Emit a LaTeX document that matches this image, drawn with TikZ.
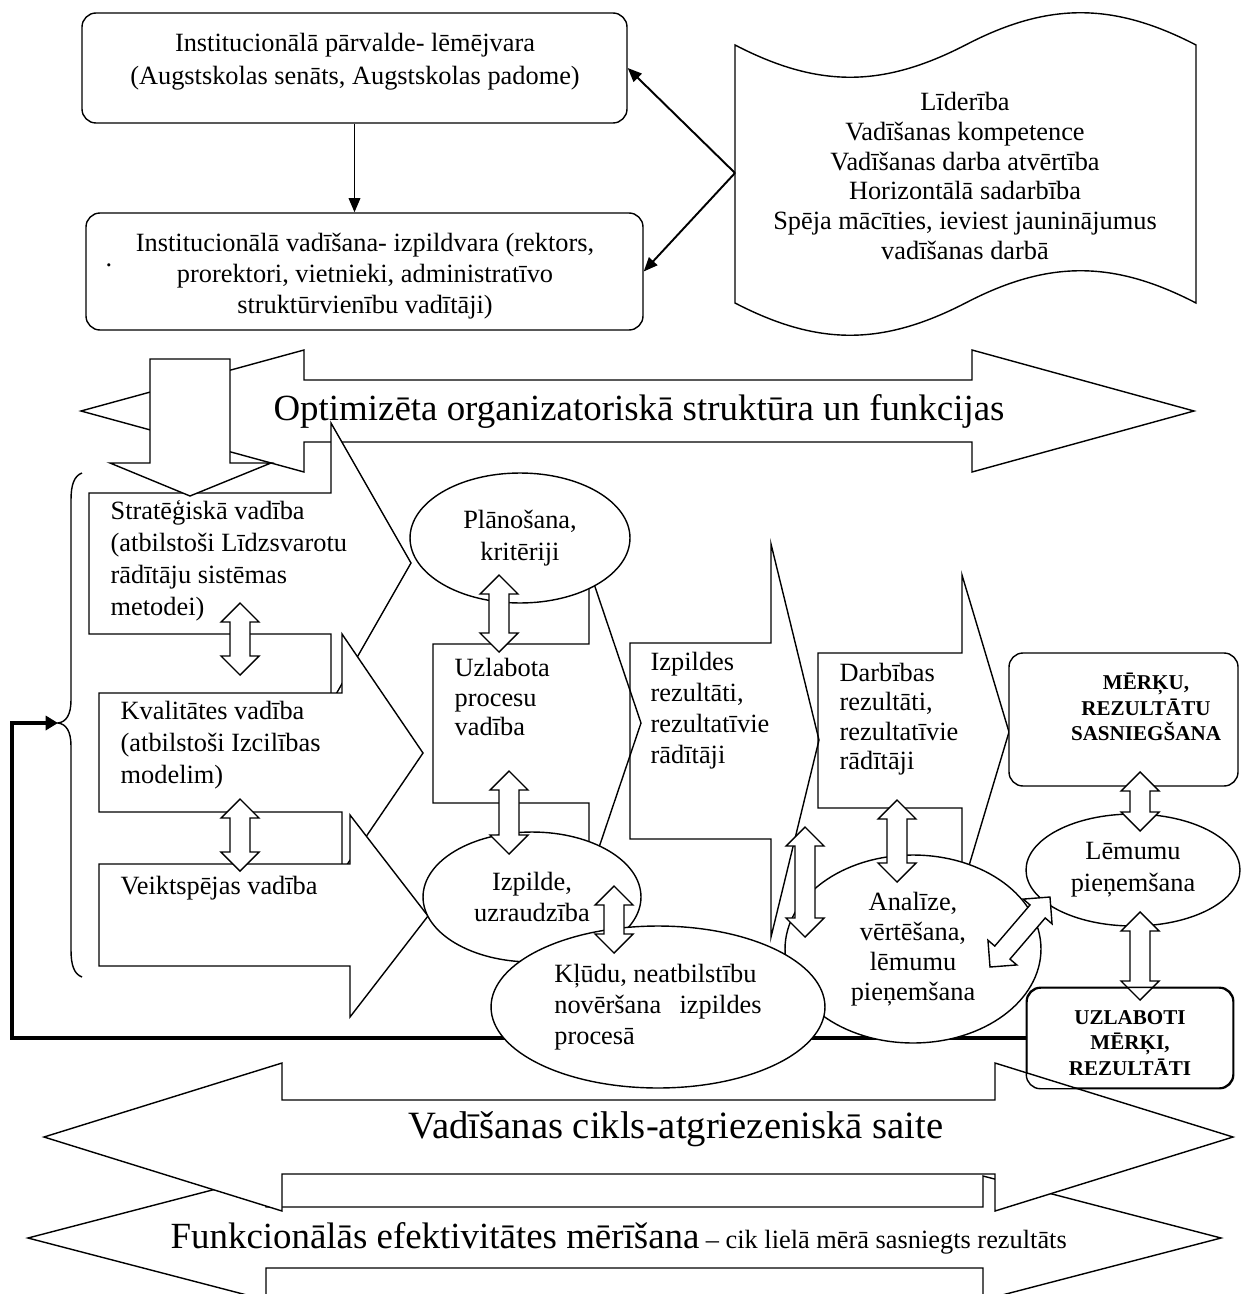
\documentclass[tikz,border=0pt]{standalone}
\usepackage{fontspec}
\setmainfont{Liberation Serif}
\usetikzlibrary{arrows.meta,shapes.geometric,fit}

% hollow double arrow between two points (pixel units)
\newcommand*{\dblarr}[4]{%
  \pgfmathsetmacro{\dblang}{atan2((#2)-(#4),(#3)-(#1))}%
  \pgfmathsetmacro{\dbllen}{veclen((#3)-(#1),(#4)-(#2))}%
  \begin{scope}[shift={(#1,#2)},rotate=\dblang]
    \draw[dblarrow] (0,0) -- (19,-19) -- (19,-10) -- (\dbllen-19,-10)
      -- (\dbllen-19,-19) -- (\dbllen,0) -- (\dbllen-19,19)
      -- (\dbllen-19,10) -- (19,10) -- (19,19) -- cycle;
  \end{scope}}

\begin{document}
\begin{tikzpicture}
[
	x=0.02cm, y=-0.02cm,
	line width=0.8pt,
	every node/.style={inner sep=0pt},
	box/.style={draw,fill=white,rounded corners=8pt},
	oval/.style={ellipse,draw,fill=white,align=center,font=\fontsize{15}{17.5}\selectfont},
	txt/.style={align=left,font=\fontsize{15}{17.5}\selectfont},
	ctxt/.style={align=center,font=\fontsize{15}{17.5}\selectfont},
	btxt/.style={align=center,font=\fontsize{12}{14.5}\selectfont\bfseries},
	bigtxt/.style={font=\fontsize{21}{24}\selectfont},
	blockarr/.style={draw,fill=white},
	openarr/.style={draw},
	dblarrow/.style={draw,fill=white},
	conn/.style={line width=1.1pt,-{Triangle[length=8pt,width=6.5pt]}},
	feedback/.style={line width=2.3pt,-{Triangle[length=7pt,width=8pt]}}
]
	\path[use as bounding box,clip] (0,0) rectangle (1243,1294);

	% governance
	\node[box,fit={(82,13) (627,123)}] (gov) {};
	\node[ctxt,font=\fontsize{15}{18.8}\selectfont] (govtxt) at (355,62)
		{Institucionālā pārvalde- lēmējvara\\(Augstskolas senāts, Augstskolas padome)};
	\node[box,fit={(86,213) (643,330)}] (exec) {};
	\node[ctxt] (exectxt) at (365,276)
		{Institucionālā vadīšana- izpildvara (rektors,\\prorektori, vietnieki, administratīvo\\struktūrvienību vadītāji)};
	\node[txt] (dot) at (109,265) {.};
	\draw[conn] (gov.south) -- (gov.south |- exec.north);

	% leadership scroll
	\draw (735,45) .. controls (818,88) and (882,88) .. (965.5,45)
		.. controls (1048,2) and (1113,2) .. (1196,45) -- (1196,303)
		.. controls (1113,260) and (1048,260) .. (965.5,303)
		.. controls (882,346) and (818,346) .. (735,303) -- cycle;
	\node[ctxt,font=\fontsize{15}{17}\selectfont] (lead) at (965,176)
		{Līderība\\Vadīšanas kompetence\\Vadīšanas darba atvērtība\\Horizontālā sadarbība\\Spēja mācīties, ieviest jauninājumus\\vadīšanas darbā};
	\coordinate (scrollL) at (735,173);
	\draw[conn] (scrollL) -- (gov.east);
	\draw[conn] (scrollL) -- (exec.east);

	% structure arrow
	\draw[blockarr] (81,411) -- (304,350) -- (304,380) -- (972,380) -- (972,350) -- (1194,411)
		-- (972,472) -- (972,442) -- (304,442) -- (304,472) -- cycle;
	\node[bigtxt,anchor=base] (opttxt) at (639,420) {Optimizēta organizatoriskā struktūra un funkcijas};

	% left column
	\draw[blockarr] (89,493) -- (331,493) -- (331,423) -- (411,563) -- (331,703) -- (331,634) -- (89,634) -- cycle;
	\node[txt,font=\fontsize{15}{18.2}\selectfont,anchor=west] (strat) at (110,561)
		{Stratēģiskā vadība\\(atbilstoši Līdzsvarotu\\rādītāju sistēmas\\metodei)};
	\draw[blockarr] (150,359) -- (230,359) -- (230,463) -- (271,463) -- (190,496) -- (110,463) -- (150,463) -- cycle;
	\draw[blockarr] (99,693) -- (342,693) -- (342,634) -- (423,753) -- (342,872) -- (342,812) -- (99,812) -- cycle;
	\node[txt,font=\fontsize{15}{18.2}\selectfont,anchor=west] (qual) at (120,745)
		{Kvalitātes vadība\\(atbilstoši Izcilības\\modelim)};
	\draw[blockarr] (99,864) -- (350,864) -- (350,815) -- (428,916) -- (350,1017) -- (350,966) -- (99,966) -- cycle;
	\node[txt,anchor=west] (perf) at (120,888) {Veiktspējas vadība};

	\coordinate (bracetip) at (58,723);
	\draw (82,473) .. controls (74,476) and (71,485) .. (71,500) -- (71,700)
		.. controls (71,715) and (66,722) .. (bracetip)
		.. controls (66,724) and (71,731) .. (71,746) -- (71,950)
		.. controls (71,965) and (74,974) .. (82,977);

	\dblarr{240}{603}{240}{675}
	\dblarr{240}{799}{240}{871}

	% feedback loop
	\node[box,fit={(1027,988) (1233,1088)}] (uzl) {};
	\coordinate (fbturn) at (12,723);
	\draw[feedback] (uzl.west) -| (fbturn) -- (bracetip);

	% middle column
	\draw[openarr] (433,644) -- (589,644) -- (589,569) -- (641,723) -- (589,877) -- (589,803) -- (433,803) -- cycle;
	\node[txt,font=\fontsize{15}{17}\selectfont,anchor=west] (proc) at (454,697) {Uzlabota\\procesu\\vadība};
	\draw[openarr] (630,643) -- (771,643) -- (771,544) -- (819,740) -- (771,937) -- (771,839) -- (630,839) -- cycle;
	\node[txt,font=\fontsize{15}{17.6}\selectfont,anchor=west] (outres) at (650,711)
		{Izpildes\\rezultāti,\\rezultatīvie\\rādītāji};
	\draw[openarr] (818,653) -- (962,653) -- (962,575) -- (1009,732) -- (962,889) -- (962,808) -- (818,808) -- cycle;
	\node[txt,font=\fontsize{15}{16.8}\selectfont,anchor=west] (actres) at (839,719)
		{Darbības\\rezultāti,\\rezultatīvie\\rādītāji};

	\node[box,fit={(1009,653) (1238,786)}] (goals) {};
	\node[btxt] (goalstxt) at (1146,707) {MĒRĶU,\\REZULTĀTU\\SASNIEGŠANA};

	\node[oval,font=\fontsize{15}{18.2}\selectfont,minimum width=4.4cm,minimum height=2.6cm] (plan) at (520,538) {Plānošana,\\kritēriji};
	\node[oval,font=\fontsize{15}{17.6}\selectfont,minimum width=4.36cm,minimum height=2.6cm] (exe) at (532,897) {Izpilde,\\uzraudzība};
	\node[oval,font=\fontsize{15}{17}\selectfont,minimum width=5.12cm,minimum height=3.76cm] (anal) at (913,949)
		{Analīze,\\vērtēšana,\\lēmumu\\pieņemšana};
	\node[oval,align=left,font=\fontsize{15}{17.6}\selectfont,minimum width=6.68cm,minimum height=3.24cm] (errs) at (658,1007)
		{Kļūdu, neatbilstību\\novēršana\hspace{0.7em}izpildes\\procesā};
	\node[oval,font=\fontsize{15}{18.2}\selectfont,minimum width=4.28cm,minimum height=2.24cm] (dec) at (1133,870) {Lēmumu\\pieņemšana};

	\dblarr{499}{575}{499}{652}
	\dblarr{509}{771}{509}{854}
	\dblarr{614}{886}{614}{953}
	\dblarr{805}{827}{805}{937}
	\dblarr{897}{800}{897}{882}
	\dblarr{1140}{772}{1140}{831}
	\dblarr{1140}{912}{1140}{1000}
	\dblarr{990}{967}{1050}{897}

	% bottom arrows
	\draw[blockarr] (28,1238) -- (266,1176) -- (266,1207) -- (983,1207) -- (983,1176) -- (1221,1238)
		-- (983,1300) -- (983,1268) -- (266,1268) -- (266,1300) -- cycle;
	\draw[blockarr] (44,1137) -- (282,1063) -- (282,1100) -- (995,1100) -- (995,1063) -- (1233,1137)
		-- (995,1211) -- (995,1174) -- (282,1174) -- (282,1211) -- cycle;
	\draw[rounded corners=8pt] (uzl.north west) rectangle (uzl.south east);
	\node[btxt] (uzltxt) at (1130,1043) {UZLABOTI\\MĒRĶI,\\REZULTĀTI};
	\node[bigtxt,font=\fontsize{22}{24}\selectfont,anchor=base] (cycletxt) at (676,1138) {Vadīšanas cikls-atgriezeniskā saite};
	\node[txt,anchor=base west] (measuretxt) at (170,1248)
		{{\fontsize{21}{24}\selectfont Funkcionālās efektivitātes mērīšana} – cik lielā mērā sasniegts rezultāts};

\end{tikzpicture}
\end{document}
